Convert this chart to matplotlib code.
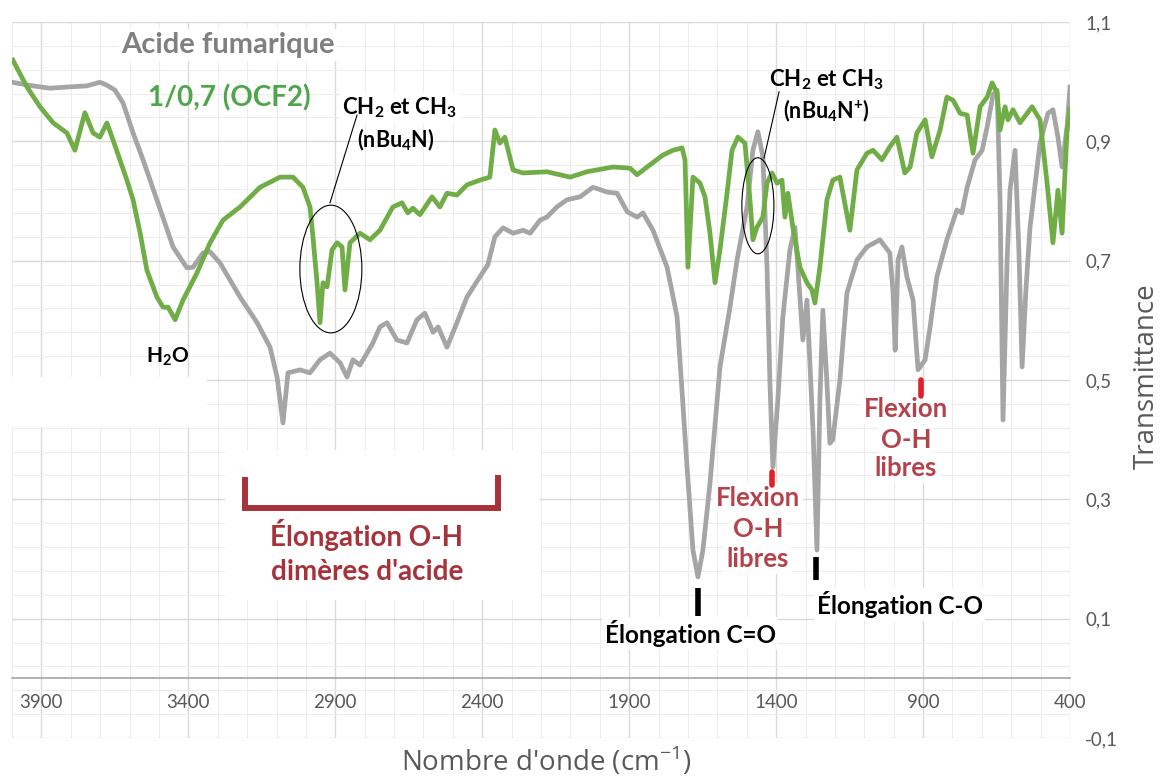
import matplotlib
matplotlib.use("Agg")
import matplotlib.pyplot as plt
from matplotlib.patches import Ellipse, Rectangle
from matplotlib.ticker import FixedLocator, MultipleLocator, FuncFormatter

plt.rcParams["mathtext.fontset"] = "custom"
plt.rcParams["mathtext.rm"] = "Open Sans"
plt.rcParams["mathtext.bf"] = "Lato:bold"

# --- spectra: wavenumber (cm-1) and transmittance ---
fumaric_wn = [4000, 3929, 3871, 3813, 3745, 3701, 3677, 3650, 3622, 3588, 3554, 3507,
              3452, 3405, 3384, 3350, 3326, 3292, 3224, 3166, 3122, 3098, 3078, 3061,
              3020, 2986, 2952, 2918, 2884, 2860, 2840, 2816, 2772, 2748, 2724, 2690,
              2656, 2622, 2595, 2567, 2550, 2520, 2486, 2452, 2408, 2381, 2357, 2329,
              2295, 2261, 2237, 2203, 2180, 2146, 2112, 2067, 2023, 1975, 1941, 1907,
              1873, 1853, 1819, 1771, 1737, 1703, 1683, 1666, 1649, 1625, 1591, 1557,
              1533, 1499, 1479, 1462, 1445, 1431, 1421, 1411, 1394, 1377, 1353, 1336,
              1326, 1309, 1295, 1274, 1261, 1251, 1241, 1227, 1217, 1207, 1183, 1159,
              1125, 1091, 1047, 1013, 1002, 995, 985, 972, 955, 934, 917, 893, 876,
              853, 819, 785, 768, 750, 723, 699, 682, 662, 648, 638, 628, 614, 604,
              587, 574, 563, 550, 536, 502, 475, 458, 441, 427, 410, 400]
fumaric_t = [0.999, 0.993, 0.989, 0.991, 0.993, 0.999, 0.994, 0.986, 0.964, 0.914, 0.869, 0.802,
             0.723, 0.688, 0.689, 0.713, 0.715, 0.696, 0.639, 0.596, 0.555, 0.505, 0.428, 0.512,
             0.517, 0.512, 0.534, 0.545, 0.529, 0.505, 0.534, 0.525, 0.562, 0.589, 0.596, 0.567,
             0.562, 0.601, 0.612, 0.580, 0.589, 0.555, 0.596, 0.639, 0.673, 0.693, 0.740, 0.755,
             0.746, 0.751, 0.746, 0.768, 0.773, 0.790, 0.802, 0.807, 0.823, 0.815, 0.813, 0.782,
             0.773, 0.780, 0.751, 0.689, 0.606, 0.354, 0.215, 0.170, 0.215, 0.327, 0.522, 0.622,
             0.701, 0.790, 0.885, 0.916, 0.874, 0.689, 0.495, 0.354, 0.467, 0.606, 0.718, 0.756,
             0.689, 0.567, 0.634, 0.411, 0.215, 0.467, 0.617, 0.495, 0.394, 0.400, 0.500, 0.646,
             0.701, 0.723, 0.735, 0.713, 0.646, 0.550, 0.701, 0.723, 0.673, 0.634, 0.517, 0.534, 0.589,
             0.673, 0.735, 0.785, 0.780, 0.823, 0.869, 0.885, 0.924, 0.978, 0.986, 0.802, 0.433, 0.701, 0.818,
             0.885, 0.718, 0.522, 0.651, 0.756, 0.897, 0.947, 0.953, 0.907, 0.857, 0.924, 0.991]

ocf2_wn = [3997, 3949, 3905, 3860, 3813, 3786, 3752, 3724, 3701, 3677, 3656, 3633,
           3609, 3588, 3564, 3541, 3507, 3486, 3469, 3445, 3418, 3371, 3326, 3282,
           3224, 3156, 3088, 3044, 3010, 2986, 2976, 2962, 2952, 2942, 2928, 2911,
           2894, 2877, 2867, 2850, 2816, 2782, 2748, 2704, 2673, 2653, 2636, 2612,
           2571, 2544, 2520, 2486, 2452, 2408, 2374, 2357, 2340, 2323, 2295, 2261,
           2180, 2101, 2044, 1955, 1897, 1873, 1839, 1785, 1751, 1720, 1710, 1700,
           1683, 1659, 1642, 1625, 1608, 1591, 1567, 1550, 1530, 1506, 1489, 1479,
           1465, 1445, 1431, 1414, 1397, 1380, 1370, 1360, 1343, 1319, 1295, 1278,
           1268, 1251, 1227, 1207, 1183, 1149, 1125, 1091, 1070, 1040, 1013, 989,
           962, 944, 921, 893, 870, 842, 819, 798, 774, 750, 730, 706, 682, 665,
           648, 638, 621, 611, 594, 570, 529, 502, 478, 458, 441, 427, 410, 400]
ocf2_t = [1.036, 0.991, 0.958, 0.931, 0.914, 0.885, 0.948, 0.914, 0.907, 0.931, 0.902, 0.869,
          0.835, 0.802, 0.746, 0.684, 0.639, 0.622, 0.622, 0.601, 0.634, 0.679, 0.730, 0.768,
          0.790, 0.823, 0.840, 0.840, 0.823, 0.790, 0.740, 0.663, 0.596, 0.663, 0.656, 0.718,
          0.730, 0.723, 0.651, 0.730, 0.746, 0.735, 0.751, 0.790, 0.797, 0.780, 0.788, 0.777,
          0.807, 0.790, 0.813, 0.810, 0.827, 0.835, 0.840, 0.919, 0.897, 0.907, 0.852, 0.847,
          0.849, 0.840, 0.849, 0.857, 0.855, 0.844, 0.857, 0.877, 0.885, 0.889, 0.869, 0.689,
          0.840, 0.830, 0.807, 0.746, 0.663, 0.718, 0.813, 0.885, 0.907, 0.897, 0.802, 0.735,
          0.756, 0.773, 0.830, 0.847, 0.830, 0.835, 0.773, 0.813, 0.756, 0.689, 0.663, 0.651,
          0.629, 0.689, 0.802, 0.835, 0.840, 0.751, 0.852, 0.880, 0.885, 0.869, 0.891, 0.907,
          0.847, 0.857, 0.914, 0.936, 0.874, 0.919, 0.974, 0.969, 0.947, 0.944, 0.880, 0.958, 0.974, 0.998,
          0.981, 0.919, 0.958, 0.936, 0.953, 0.931, 0.958, 0.936, 0.830, 0.730, 0.818, 0.746, 0.919, 0.953]

x_tick_values = [3900, 3400, 2900, 2400, 1900, 1400, 900, 400]
y_tick_values = [-0.1, 0.1, 0.3, 0.5, 0.7, 0.9, 1.1]

GRAY = "#A5A5A5"
GREEN = "#70AD47"
TEXT_GRAY = "#595959"
DARK_RED = "#A8323A"
LABEL_RED = "#B4424A"
RED = "#E0202A"

fig = plt.figure(figsize=(11.64, 7.76), dpi=100)
ax = fig.add_axes([12 / 1164, 38 / 776, 1058 / 1164, 716 / 776])
ax.set_xlim(4000, 400)
ax.set_ylim(-0.1, 1.1)

# grid
ax.xaxis.set_major_locator(FixedLocator(x_tick_values))
ax.xaxis.set_minor_locator(MultipleLocator(100))
ax.yaxis.set_major_locator(FixedLocator(y_tick_values))
ax.yaxis.set_minor_locator(FixedLocator([round(-0.1 + 0.04 * i, 2) for i in range(31)]))
ax.set_axisbelow(True)
ax.grid(which="major", color="#D9D9D9", lw=1.0)
ax.grid(which="minor", color="#EDEDED", lw=0.8)

for side in ("top", "left", "right"):
    ax.spines[side].set_visible(False)
ax.spines["bottom"].set_position(("data", 0))
ax.spines["bottom"].set_color("#A6A6A6")
ax.spines["bottom"].set_linewidth(1.2)

ax.yaxis.tick_right()
ax.yaxis.set_major_formatter(FuncFormatter(lambda v, p: f"{v:.1f}".replace(".", ",")))
ax.tick_params(axis="both", which="both", length=0)
ax.tick_params(axis="x", pad=11, labelsize=13.5, labelcolor=TEXT_GRAY)
ax.tick_params(axis="y", pad=11, labelsize=13.5, labelcolor=TEXT_GRAY)
for lab in ax.get_xticklabels() + ax.get_yticklabels():
    lab.set_fontfamily("Lato")

ax.set_xlabel("Nombre d'onde (cm$^{-1}$)", fontsize=20, color=TEXT_GRAY, family="Open Sans")
ax.xaxis.set_label_coords(0.505, -0.046)
ax.xaxis.label.set_va("baseline")
ax.yaxis.set_label_position("right")
ax.set_ylabel("Transmittance", fontsize=20, color=TEXT_GRAY, family="Open Sans")
ax.yaxis.set_label_coords(1.073, 0.506)
ax.yaxis.label.set_va("center")
ax.yaxis.label.set_ha("center")

# blank areas behind annotations
ax.add_patch(Rectangle((3336, 0.421), 664, 0.084, facecolor="white",
                       edgecolor="none", zorder=1))
ax.add_patch(Rectangle((2203, 0.131), 1072, 0.252, facecolor="white",
                       edgecolor="none", zorder=1))

# spectra
ax.plot(fumaric_wn, fumaric_t, color=GRAY, lw=3.4, zorder=3, solid_joinstyle="round")
ax.plot(ocf2_wn, ocf2_t, color=GREEN, lw=3.4, zorder=4, solid_joinstyle="round")

box = dict(facecolor="white", edgecolor="none", pad=2)

ax.text(3265, 1.061, "Acide fumarique", fontsize=21, fontweight="bold", color="#808080",
        family="Lato", ha="center", va="center", bbox=box, zorder=2)
ax.text(3260, 0.973, "1/0,7 (OCF2)", fontsize=20, fontweight="bold", color="#4EA64A",
        family="Lato", ha="center", va="center", zorder=2)

# CH2/CH3 groups of nBu4N
ax.text(2680, 0.956, r"CH$_\mathbf{2}$ et CH$_\mathbf{3}$", fontsize=16, fontweight="bold",
        family="Lato", ha="center", va="center", bbox=box, zorder=2)
ax.text(2693, 0.902, r"(nBu$_\mathbf{4}$N)", fontsize=15.5, fontweight="bold",
        family="Lato", ha="center", va="center", zorder=2)
ax.add_patch(Ellipse((2915, 0.686), 211, 0.214, fill=False, edgecolor="black",
                     lw=0.8, zorder=5))
ax.plot([2918, 2826], [0.797, 0.944], color="black", lw=0.8, zorder=5)

ax.text(1230, 1.003, r"CH$_\mathbf{2}$ et CH$_\mathbf{3}$", fontsize=16, fontweight="bold",
        family="Lato", ha="center", va="center", zorder=2)
ax.text(1230, 0.951, r"(nBu$_\mathbf{4}$N$^\mathbf{+}$)", fontsize=15.5, fontweight="bold",
        family="Lato", ha="center", va="center", zorder=2)
ax.add_patch(Ellipse((1462, 0.792), 109, 0.161, fill=False, edgecolor="black",
                     lw=0.8, zorder=5))
ax.plot([1441, 1390], [0.872, 0.983], color="black", lw=0.8, zorder=5)

ax.text(3469, 0.539, r"H$_\mathbf{2}$O", fontsize=15, fontweight="bold",
        family="Lato", ha="center", va="center", zorder=2)

# O-H stretching of acid dimers
ax.plot([3207, 3207, 2346, 2346], [0.337, 0.286, 0.286, 0.341], color=DARK_RED,
        lw=4.3, solid_capstyle="butt", solid_joinstyle="miter", zorder=5)
ax.text(2795, 0.240, "Élongation O-H", fontsize=20, fontweight="bold", color=DARK_RED,
        family="Lato", ha="center", va="center", zorder=2)
ax.text(2790, 0.178, "dimères d'acide", fontsize=20, fontweight="bold", color=DARK_RED,
        family="Lato", ha="center", va="center", zorder=2)

# free O-H bending
for wn, ys, mark_wn, mark_y in [(1462, (0.302, 0.250, 0.200), 1414, (0.346, 0.324)),
                                (958, (0.451, 0.400, 0.353), 907, (0.500, 0.474))]:
    for txt, yy in zip(["Flexion", "O-H", "libres"], ys):
        ax.text(wn, yy, txt, fontsize=18.5, fontweight="bold", color=LABEL_RED,
                family="Lato", ha="center", va="center", bbox=box, zorder=2)
    ax.plot([mark_wn, mark_wn], mark_y, color=RED, lw=4, solid_capstyle="round", zorder=5)

# C=O and C-O stretching
ax.plot([1666, 1666], [0.151, 0.105], color="black", lw=4, solid_capstyle="butt", zorder=5)
ax.text(1693, 0.075, "Élongation C=O", fontsize=17.5, fontweight="bold",
        family="Lato", ha="center", va="center", bbox=box, zorder=2)
ax.plot([1264, 1264], [0.203, 0.165], color="black", lw=4, solid_capstyle="butt", zorder=5)
ax.text(980, 0.124, "Élongation C-O", fontsize=17.5, fontweight="bold",
        family="Lato", ha="center", va="center", bbox=box, zorder=2)

fig.savefig("out.png", dpi=100, facecolor="white")
